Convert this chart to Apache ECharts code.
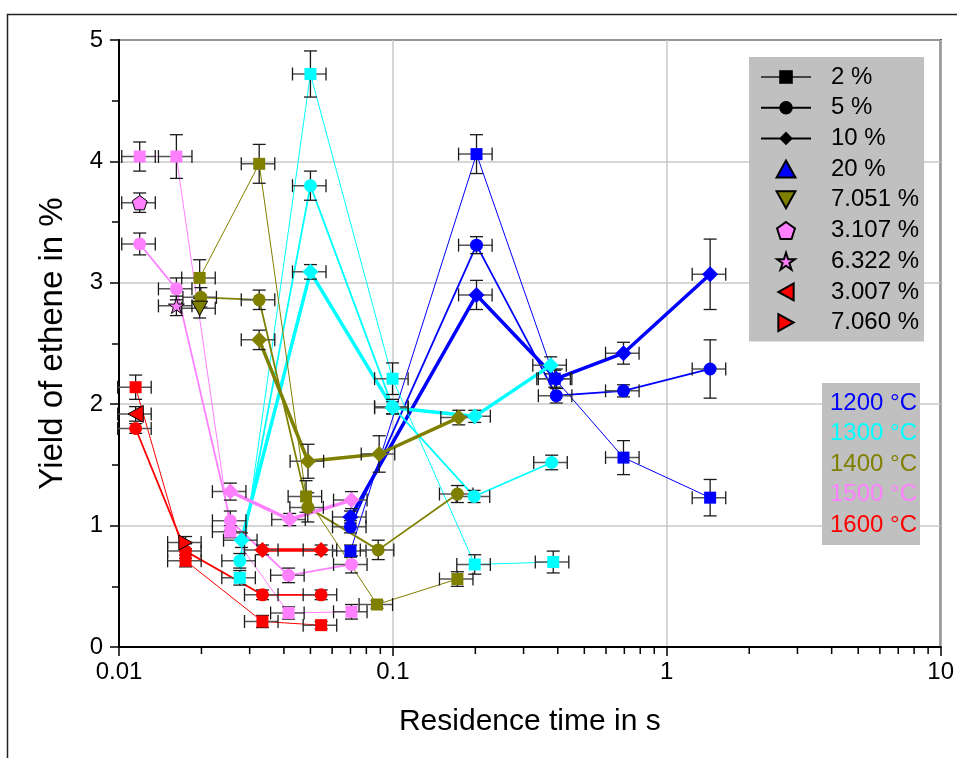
<!DOCTYPE html>
<html><head><meta charset="utf-8">
<script src="https://cdn.jsdelivr.net/npm/echarts@6/dist/echarts.min.js"></script>
<style>html,body{margin:0;padding:0;background:#fff}#c{width:957px;height:758px}</style>
</head><body><div id="c"></div>
<script>
const FONT = '"Liberation Sans", Arial, sans-serif';
const temperatures = ['1200 °C', '1300 °C', '1400 °C', '1500 °C', '1600 °C'];
const tempColors = ['#0000ff', '#00ffff', '#808000', '#ff80ff', '#ff0000'];
const legendNames = ['2 %', '5 %', '10 %', '20 %', '7.051 %', '3.107 %', '6.322 %', '3.007 %', '7.060 %'];
const xTickValues = [0.01, 0.1, 1, 10];
const xMinorTicks = [0.02,0.03,0.04,0.05,0.06,0.07,0.08,0.09,0.2,0.3,0.4,0.5,0.6,0.7,0.8,0.9,2,3,4,5,6,7,8,9];
const yTickValues = [0, 1, 2, 3, 4, 5];
const xErrRel = 0.14; // relative residence-time uncertainty

// [residence time / s, yield / %, yield error]
const s1200_2  = [[0.070,0.79,0.05],[0.202,4.06,0.16],[0.39,2.21,0.07],[0.695,1.56,0.14],[1.44,1.23,0.15]];
const s1200_5  = [[0.070,0.99,0.05],[0.202,3.31,0.07],[0.395,2.07,0.06],[0.695,2.11,0.05],[1.44,2.29,0.24]];
const s1200_10 = [[0.070,1.07,0.05],[0.202,2.90,0.12],[0.395,2.21,0.08],[0.695,2.42,0.09],[1.44,3.07,0.29]];
const s1200_20 = [];

const s1300_2  = [[0.0276,0.57,0.06],[0.050,4.72,0.19],[0.0997,2.21,0.13],[0.199,0.68,0.08],[0.385,0.70,0.09]];
const s1300_5  = [[0.0276,0.71,0.06],[0.050,3.80,0.12],[0.0997,1.98,0.06],[0.198,1.24,0.05],[0.38,1.52,0.06]];
const s1300_10 = [[0.028,0.88,0.06],[0.050,3.09,0.06],[0.0997,1.97,0.05],[0.199,1.90,0.05],[0.377,2.32,0.07]];

const s1400_2  = [[0.0197,3.04,0.15],[0.0325,3.98,0.16],[0.0482,1.24,0.13],[0.0875,0.35,0.03],[0.172,0.56,0.06]];
const s1400_5  = [[0.0199,2.88,0.08],[0.0325,2.86,0.08],[0.0489,1.15,0.12],[0.0884,0.80,0.08],[0.172,1.26,0.07]];
const s1400_10 = [[0.0325,2.53,0.08],[0.049,1.53,0.14],[0.0891,1.59,0.15],[0.174,1.89,0.06]];
const s1400_7051 = [[0.0197,2.79,0.08]];

const s1500_2  = [[0.0119,4.04,0.12],[0.0162,4.04,0.18],[0.0255,0.95,0.05],[0.0416,0.28,0.05],[0.0706,0.29,0.06]];
const s1500_5  = [[0.0119,3.32,0.09],[0.0162,2.95,0.09],[0.0255,1.04,0.08],[0.0416,0.59,0.06],[0.0706,0.68,0.07]];
const s1500_10 = [[0.0255,1.28,0.07],[0.042,1.05,0.05],[0.0706,1.21,0.07]];
const s1500_3107 = [[0.0119,3.66,0.08]];
const s1500_6322 = [[0.0162,2.81,0.08]];

const s1600_2  = [[0.0115,2.14,0.10],[0.0175,0.71,0.05],[0.0334,0.21,0.05],[0.0547,0.18,0.03]];
const s1600_5  = [[0.0115,1.80,0.04],[0.0175,0.79,0.06],[0.0334,0.43,0.04],[0.0547,0.43,0.04]];
const s1600_10 = [[0.0334,0.80,0.04],[0.0547,0.80,0.04]];
const s1600_3007 = [[0.0115,1.92,0.06]];
const s1600_7060 = [[0.0175,0.86,0.05]];

const PENTAGON = 'path://M0,-1L0.951,-0.309L0.588,0.809L-0.588,0.809L-0.951,-0.309Z';
const STAR = 'path://M0,-1L0.2245,-0.309L0.951,-0.309L0.363,0.118L0.588,0.809L0,0.382L-0.588,0.809L-0.363,0.118L-0.951,-0.309L-0.2245,-0.309Z';
const TRI_UP = 'path://M1,0L2,1.8L0,1.8Z';
const TRI_DOWN = 'path://M0,0L2,0L1,1.8Z';
const TRI_LEFT = 'path://M1.8,0L1.8,2L0,1Z';
const TRI_RIGHT = 'path://M0,0L1.8,1L0,2Z';

const kinds = {
  '2 %':     {symbol: 'rect', size: 12, width: 1, line: true},
  '5 %':     {symbol: 'circle', size: 13, width: 1.8, line: true},
  '10 %':    {symbol: 'diamond', size: 16, width: 3.5, line: true},
  '20 %':    {symbol: TRI_UP, size: 14, line: false, border: true},
  '7.051 %': {symbol: TRI_DOWN, size: 16, line: false, border: true},
  '3.107 %': {symbol: PENTAGON, size: 15, line: false, border: true},
  '6.322 %': {symbol: STAR, size: 16, line: false, border: true},
  '3.007 %': {symbol: TRI_LEFT, size: 17, line: false, border: true},
  '7.060 %': {symbol: TRI_RIGHT, size: 15, line: false, border: true}
};

const groups = [
  [s1200_2, 0, '2 %'], [s1200_5, 0, '5 %'], [s1200_10, 0, '10 %'], [s1200_20, 0, '20 %'],
  [s1300_2, 1, '2 %'], [s1300_5, 1, '5 %'], [s1300_10, 1, '10 %'],
  [s1400_2, 2, '2 %'], [s1400_5, 2, '5 %'], [s1400_10, 2, '10 %'], [s1400_7051, 2, '7.051 %'],
  [s1500_2, 3, '2 %'], [s1500_5, 3, '5 %'], [s1500_10, 3, '10 %'], [s1500_3107, 3, '3.107 %'], [s1500_6322, 3, '6.322 %'],
  [s1600_2, 4, '2 %'], [s1600_5, 4, '5 %'], [s1600_10, 4, '10 %'], [s1600_3007, 4, '3.007 %'], [s1600_7060, 4, '7.060 %']
];

const series = [];
const errData = [];
groups.forEach(([data, ti, kind], gi) => {
  const k = kinds[kind];
  const color = tempColors[ti];
  const xy = data.map(d => [d[0], d[1]]);
  data.forEach(d => errData.push(d));
  if (k.line) {
    series.push({
      type: 'line', name: 'line' + gi, data: xy, showSymbol: false, z: 2,
      lineStyle: {color: color, width: k.width}, itemStyle: {color: color},
      silent: true
    });
  }
  series.push({
    type: 'scatter', name: k.line ? 'pt' + gi : kind, data: xy, z: 4,
    symbol: k.symbol, symbolSize: k.size, symbolKeepAspect: true,
    itemStyle: {color: color, opacity: 1, borderColor: k.border ? '#000' : color, borderWidth: k.border ? 1 : 0},
    silent: true
  });
});

// legend proxies for the line kinds (black samples)
['2 %', '5 %', '10 %'].forEach(n => {
  const k = kinds[n];
  series.push({
    type: 'line', name: n, data: [], symbol: k.symbol, symbolSize: k.size,
    lineStyle: {color: n === '2 %' ? '#444' : '#000', width: n === '10 %' ? 3.5 : (n === '5 %' ? 1.8 : 1.2)},
    itemStyle: {color: '#000'}
  });
});

// error bars
series.push({
  type: 'custom', name: 'errors', z: 3, silent: true,
  data: errData,
  encode: {x: 0, y: 1},
  renderItem: function (params, api) {
    const x = api.value(0), y = api.value(1), e = api.value(2);
    const c = api.coord([x, y]);
    const t = api.coord([x, y + e]);
    const b = api.coord([x, Math.max(y - e, 0)]);
    const l = api.coord([x * (1 - xErrRel), y]);
    const r = api.coord([x * (1 + xErrRel), y]);
    const cap = 6.5;
    const vs = {stroke: '#1a1a1a', lineWidth: 1.3};
    const hs = {stroke: '#555555', lineWidth: 1.5};
    return {type: 'group', children: [
      {type: 'line', shape: {x1: c[0], y1: t[1], x2: c[0], y2: b[1]}, style: vs},
      {type: 'line', shape: {x1: c[0] - cap, y1: t[1], x2: c[0] + cap, y2: t[1]}, style: vs},
      {type: 'line', shape: {x1: c[0] - cap, y1: b[1], x2: c[0] + cap, y2: b[1]}, style: vs},
      {type: 'line', shape: {x1: l[0], y1: c[1], x2: r[0], y2: c[1]}, style: hs},
      {type: 'line', shape: {x1: l[0], y1: c[1] - cap, x2: l[0], y2: c[1] + cap}, style: vs},
      {type: 'line', shape: {x1: r[0], y1: c[1] - cap, x2: r[0], y2: c[1] + cap}, style: vs}
    ]};
  }
});

// x minor ticks (log decades)
series.push({
  type: 'custom', name: 'minorTicks', z: 5, silent: true, clip: false,
  data: xMinorTicks.map(v => [v, 0]),
  encode: {x: 0, y: 1},
  renderItem: function (params, api) {
    const p = api.coord([api.value(0), 0]);
    return {type: 'line', shape: {x1: p[0], y1: p[1], x2: p[0], y2: p[1] + 7}, style: {stroke: '#000', lineWidth: 1.5}};
  }
});

const tempTexts = temperatures.map((t, i) => ({
  type: 'text', left: 830, top: 391 + i * 30.5, z: 11,
  style: {text: t, fill: tempColors[i], font: '24px ' + FONT}
}));

const option = {
  animation: false,
  backgroundColor: '#fff',
  grid: {left: 119, top: 40, width: 824, height: 607, show: true, borderColor: '#000', borderWidth: 2, containLabel: false},
  xAxis: {
    type: 'log', logBase: 10, min: 0.01, max: 10,
    name: 'Residence time in s', nameLocation: 'middle', nameGap: 60,
    nameTextStyle: {fontSize: 30, fontFamily: FONT, color: '#000'},
    axisLine: {show: true, lineStyle: {color: '#000', width: 2}},
    axisTick: {show: true, inside: false, length: 9, lineStyle: {color: '#000', width: 1.5}},
    axisLabel: {fontSize: 24, fontFamily: FONT, color: '#000', margin: 13,
      formatter: v => { const s = xTickValues.find(t => Math.abs(t - v) / t < 1e-6); return s === undefined ? '' : String(s); }},
    splitLine: {show: true, lineStyle: {color: '#c8c8c8', width: 1.5}},
    minorTick: {show: false}
  },
  yAxis: {
    type: 'value', min: yTickValues[0], max: yTickValues[yTickValues.length - 1], interval: 1,
    name: 'Yield of ethene in %', nameLocation: 'middle', nameGap: 50,
    nameTextStyle: {fontSize: 33, fontFamily: FONT, color: '#000'},
    axisLine: {show: true, lineStyle: {color: '#000', width: 2}},
    axisTick: {show: true, inside: false, length: 9, lineStyle: {color: '#000', width: 1.5}},
    minorTick: {show: true, splitNumber: 2, length: 7, lineStyle: {color: '#000', width: 1.5}},
    axisLabel: {fontSize: 24, fontFamily: FONT, color: '#000', margin: 16},
    splitLine: {show: true, lineStyle: {color: '#c8c8c8', width: 1.5}}
  },
  legend: {
    show: true, orient: 'vertical', left: 749, top: 57,
    data: legendNames,
    backgroundColor: '#c0c0c0',
    padding: [8, 5, 7, 11],
    itemWidth: 50, itemHeight: 17, itemGap: 6.7,
    selectedMode: false,
    textStyle: {fontSize: 24, fontFamily: FONT, color: '#000', padding: [0, 0, 0, 15]}
  },
  graphic: [
    {type: 'rect', left: 5, top: 12, z: 0, shape: {width: 1000, height: 800}, style: {fill: 'none', stroke: '#222', lineWidth: 1.5}},
    {type: 'rect', left: 822, top: 383, z: 10, shape: {width: 98, height: 162}, style: {fill: '#c0c0c0'}}
  ].concat(tempTexts),
  series: series
};

const chart = echarts.init(document.getElementById('c'), null, {renderer: 'canvas'});
chart.setOption(option);
</script>
</body></html>
